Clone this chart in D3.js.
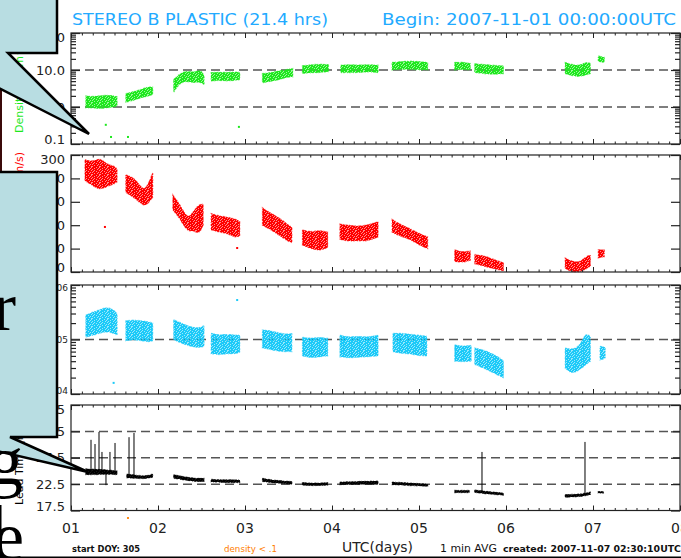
<!DOCTYPE html>
<html>
<head>
<meta charset="utf-8">
<script src="https://cdn.jsdelivr.net/npm/d3@7"></script>
<style>
  body { margin: 0; background: #fff; }
  svg { display: block; }
</style>
</head>
<body>
<div id="chart"></div>
<script>
// ---- data: [day, low, high] envelopes per data stretch ----
const densitySegs = [
  [[1.17,0.95,2.0],[1.25,0.95,1.9],[1.33,0.9,2.0],[1.41,0.95,2.1],[1.49,1.0,2.0],[1.53,1.05,1.9]],
  [[1.63,1.35,2.3],[1.72,1.5,2.6],[1.81,1.8,3.0],[1.90,2.0,3.6],[1.94,2.2,3.4]],
  [[2.18,2.5,5.5],[2.25,4.5,8.0],[2.33,5.0,9.5],[2.41,4.5,8.5],[2.49,4.8,10.5],[2.53,4.0,7.0]],
  [[2.61,5.0,8.5],[2.70,5.3,8.8],[2.80,5.0,8.5],[2.90,5.3,9.0],[2.94,5.5,8.5]],
  [[3.20,4.5,8.0],[3.30,5.0,8.5],[3.40,5.5,9.5],[3.50,6.5,10.5],[3.55,6.5,11]],
  [[3.66,8.0,13],[3.76,8.5,14],[3.86,8.5,14.5],[3.96,9,14]],
  [[4.10,8.5,13.5],[4.20,8.5,14],[4.30,8.5,13.5],[4.40,9,14],[4.53,8.5,13.5]],
  [[4.69,10,16],[4.80,10.5,17],[4.90,10.5,17.5],[5.00,10,17],[5.10,10,16]],
  [[5.41,10,16],[5.50,10.5,16.5],[5.59,10,15]],
  [[5.64,8.5,15],[5.75,8,14],[5.85,7.5,13.5],[5.97,8,13]],
  [[6.68,8,16],[6.76,7,14],[6.85,6.5,13],[6.93,7.5,17],[6.97,8,15]],
  [[7.06,17,24],[7.13,16,22]]
];
const densityDots = [[1.40,0.33],[1.46,0.155],[1.655,0.155],[2.93,0.29]];

const speedSegs = [
  [[1.16,278,296],[1.25,274,294],[1.33,270,298],[1.41,273,292],[1.49,275,291],[1.53,277,288]],
  [[1.63,268,283],[1.72,264,281],[1.81,258,272],[1.86,256,270],[1.94,264,285]],
  [[2.17,253,266],[2.25,246,258],[2.34,234,245],[2.40,236,251],[2.47,232,258],[2.52,240,258]],
  [[2.61,236,250],[2.70,234,248],[2.80,233,247],[2.90,229,245],[2.94,231,243]],
  [[3.20,240,255],[3.30,236,250],[3.40,231,246],[3.50,226,240],[3.54,225,238]],
  [[3.66,223,236],[3.76,220,234],[3.86,218,236],[3.95,221,234]],
  [[4.09,228,241],[4.20,226,240],[4.30,227,239],[4.40,226,240],[4.53,230,243]],
  [[4.69,234,245],[4.80,230,240],[4.90,228,237],[5.00,223,233],[5.10,220,230]],
  [[5.41,209,219],[5.50,208,217],[5.59,210,218]],
  [[5.64,207,215],[5.75,205,214],[5.85,203,211],[5.97,201,208]],
  [[6.68,203,212],[6.76,200,209],[6.85,200,208],[6.93,203,214],[6.97,205,214]],
  [[7.06,212,219],[7.13,213,219]]
];
const speedDots = [[1.39,238.5],[2.91,220.5]];

const tempSegs = [
  [[1.17,1.1e5,2.8e5],[1.25,1.2e5,3.2e5],[1.33,1.3e5,3.5e5],[1.41,1.4e5,4.0e5],[1.49,1.3e5,3.5e5],[1.53,1.2e5,3.0e5]],
  [[1.63,0.95e5,2.2e5],[1.72,1.0e5,2.3e5],[1.81,0.95e5,2.2e5],[1.90,0.9e5,2.1e5],[1.94,0.95e5,2.0e5]],
  [[2.18,1.0e5,2.3e5],[2.27,0.85e5,2.0e5],[2.37,0.75e5,1.7e5],[2.47,0.7e5,1.6e5],[2.53,0.75e5,1.8e5]],
  [[2.61,5.5e4,1.3e5],[2.70,5.2e4,1.2e5],[2.80,5.5e4,1.25e5],[2.90,5.5e4,1.2e5],[2.94,5.8e4,1.2e5]],
  [[3.20,7e4,1.5e5],[3.30,6.5e4,1.45e5],[3.40,6e4,1.3e5],[3.50,6e4,1.25e5],[3.54,6e4,1.3e5]],
  [[3.66,5e4,1.1e5],[3.76,4.6e4,1.05e5],[3.86,4.8e4,1.1e5],[3.95,5e4,1.05e5]],
  [[4.09,4.8e4,1.2e5],[4.20,4.6e4,1.1e5],[4.30,4.7e4,1.15e5],[4.40,4.8e4,1.1e5],[4.53,5e4,1.2e5]],
  [[4.70,6e4,1.3e5],[4.80,5.5e4,1.3e5],[4.90,5.5e4,1.25e5],[5.00,5e4,1.2e5],[5.09,5e4,1.15e5]],
  [[5.41,4e4,8e4],[5.50,3.9e4,7.5e4],[5.60,4e4,7.8e4]],
  [[5.64,3.5e4,7e4],[5.74,3.0e4,6.5e4],[5.84,2.5e4,5.5e4],[5.94,2.1e4,4.5e4],[5.97,2.0e4,4.0e4]],
  [[6.68,3.0e4,7.0e4],[6.76,2.3e4,6.5e4],[6.85,2.8e4,7.5e4],[6.92,3.5e4,1.4e5],[6.97,4e4,1.1e5]],
  [[7.08,4.2e4,7.5e4],[7.14,4.5e4,7.2e4]]
];
const tempDots = [[1.49,1.6e4],[2.91,5.3e5]];

const leadSegs = [
  [[1.17,24.3,25.4],[1.30,24.3,25.3],[1.42,24.4,25.2],[1.53,24.3,25.0]],
  [[1.64,23.7,24.4],[1.75,23.6,24.2],[1.85,23.5,24.0],[1.94,23.8,24.4]],
  [[2.18,23.6,24.3],[2.30,23.3,23.9],[2.42,23.0,23.6],[2.53,23.0,23.6]],
  [[2.61,22.9,23.4],[2.75,22.8,23.3],[2.94,22.8,23.3]],
  [[3.20,23.0,23.6],[3.35,22.7,23.2],[3.54,22.5,23.0]],
  [[3.66,22.3,22.8],[3.80,22.2,22.7],[3.95,22.3,22.8]],
  [[4.09,22.4,22.9],[4.30,22.5,23.0],[4.53,22.5,23.1]],
  [[4.69,22.4,22.9],[4.90,22.2,22.7],[5.10,22.1,22.5]],
  [[5.41,20.9,21.3],[5.58,20.9,21.3]],
  [[5.64,20.9,21.4],[5.80,20.6,21.1],[5.97,20.4,20.8]],
  [[6.68,20.0,20.5],[6.85,20.1,20.6],[6.97,20.5,21.0]],
  [[7.06,20.8,21.1],[7.12,20.8,21.1]]
];
const leadSpikes = [
  [1.23,24.8,30.9],[1.276,24.8,30.1],[1.322,24.8,32.4],[1.356,24.8,28.6],[1.402,24.8,22.3],
  [1.448,24.8,28.6],[1.506,24.7,30.3],[1.667,24.0,31.4],[1.724,23.9,32.2],
  [5.724,21.0,28.6],[6.908,20.5,30.5]
];
const lowDensityFlags = [1.655];

// axis values and labels
const dayTicks = [1, 2, 3, 4, 5, 6, 7, 8];
const dayLabels = ["01", "02", "03", "04", "05", "06", "07", "08"];
const densTicks = [0.1, 1, 10, 100];
const densLabels = ["0.1", "1.0", "10.0", "100.0"];
const densDashes = [1, 10];
const speedTicks = [200, 220, 240, 260, 280, 300];
const speedLabels = ["200", "220", "240", "260", "280", "300"];
const tempTicks = [1e4, 1e5, 1e6];
const tempLabels = ["1e+04", "1e+05", "1e+06"];
const tempDashes = [1e5];
const leadTicks = [17.5, 22.5, 27.5, 32.5, 37.5];
const leadLabels = ["17.5", "22.5", "27.5", "32.5", "37.5"];
const leadDashes = [22.5, 27.5, 32.5];

const width = 681;
const height = 558;
const SANS = "'DejaVu Sans', sans-serif";

const svg = d3.select("#chart")
  .append("svg")
  .attr("width", width)
  .attr("height", height)
  .style("background", "#fff");

const x = d3.scaleLinear().domain([1, 8]).range([71, 680]);

const panels = [
  { id: "dens", top: 33, bottom: 144, log: true, domain: [0.1, 100], color: "#1ee81e",
    segs: densitySegs, dots: densityDots, ticks: densTicks, labels: densLabels,
    dashes: densDashes, font: 13, title: "Density (1/cm^3)", titleY: 133, anchor: "start" },
  { id: "speed", top: 155, bottom: 272, log: false, domain: [200, 300], color: "#ff0000",
    segs: speedSegs, dots: speedDots, ticks: speedTicks, labels: speedLabels,
    dashes: [], font: 13, title: "Speed (km/s)", titleY: 152, anchor: "end" },
  { id: "temp", top: 285, bottom: 394, log: true, domain: [1e4, 1e6], color: "#1ccaf8",
    segs: tempSegs, dots: tempDots, ticks: tempTicks, labels: tempLabels,
    dashes: tempDashes, font: 9, title: "Temperature (K)", titleY: 340, anchor: "middle" },
  { id: "lead", top: 405, bottom: 510.5, log: false, domain: [17.5, 37.5], color: "#000",
    segs: leadSegs, dots: [], ticks: leadTicks, labels: leadLabels,
    dashes: leadDashes, font: 13, title: "Lead Time (hrs)", titleY: 505, anchor: "start" }
];

// speckle texture so the envelopes read like scattered 1-min points
const speckle = [
  "XX.XXX.X", "X.XX.XXX", "XXX.XX.X", ".XXXX.XX",
  "XX.X.XXX", "X.XXXX.X", "XXX..XXX", ".XX.XXXX"
];
const defs = svg.append("defs");
panels.forEach(p => {
  const pat = defs.append("pattern")
    .attr("id", "sp-" + p.id)
    .attr("width", 8).attr("height", 8)
    .attr("patternUnits", "userSpaceOnUse");
  speckle.forEach((row, r) => row.split("").forEach((c, k) => {
    if (c === "X") pat.append("rect").attr("x", k).attr("y", r).attr("width", 1).attr("height", 1).attr("fill", p.color);
  }));
});

const minorX = d3.range(1, 8.001, 0.125);

panels.forEach(p => {
  const y = (p.log ? d3.scaleLog() : d3.scaleLinear()).domain(p.domain).range([p.bottom, p.top]);
  const g = svg.append("g");

  // dashed reference lines
  g.selectAll(".dash").data(p.dashes).enter().append("line")
    .attr("x1", 71).attr("x2", 680)
    .attr("y1", d => y(d)).attr("y2", d => y(d))
    .attr("stroke", "#555").attr("stroke-width", 1.5)
    .attr("stroke-dasharray", "9,5");

  // data envelopes
  const area = d3.area()
    .x(d => x(d[0]))
    .y0(d => y(d[1]))
    .y1(d => y(d[2]))
    .curve(d3.curveBasis);
  g.selectAll(".base").data(p.segs).enter().append("path")
    .attr("d", area)
    .attr("fill", p.color)
    .attr("fill-opacity", p.id === "lead" ? 0.9 : 0.45);
  g.selectAll(".seg").data(p.segs).enter().append("path")
    .attr("d", area)
    .attr("fill", `url(#sp-${p.id})`)
    .attr("stroke", p.color)
    .attr("stroke-opacity", 0.5)
    .attr("stroke-width", 1.2)
    .attr("stroke-dasharray", "2,1,1,2");

  g.selectAll(".dot").data(p.dots).enter().append("rect")
    .attr("x", d => x(d[0]) - 1).attr("y", d => y(d[1]) - 1)
    .attr("width", 2).attr("height", 2)
    .attr("fill", p.color);

  if (p.id === "lead") {
    g.selectAll(".spike").data(leadSpikes).enter().append("line")
      .attr("x1", d => x(d[0])).attr("x2", d => x(d[0]))
      .attr("y1", d => y(d[1])).attr("y2", d => y(d[2]))
      .attr("stroke", "#000").attr("stroke-width", 1);
  }

  // frame
  g.append("rect")
    .attr("x", 71).attr("y", p.top)
    .attr("width", 609).attr("height", p.bottom - p.top)
    .attr("fill", "none").attr("stroke", "#222").attr("stroke-width", 1.2);

  // x ticks, top and bottom, pointing inward
  [
    { axis: d3.axisBottom, pos: p.top },
    { axis: d3.axisTop, pos: p.bottom }
  ].forEach(t => {
    g.append("g").attr("transform", `translate(0,${t.pos})`)
      .call(t.axis(x).tickValues(minorX).tickSize(2.5).tickFormat(""))
      .call(s => s.select(".domain").remove())
      .selectAll("line").attr("stroke", "#222");
    g.append("g").attr("transform", `translate(0,${t.pos})`)
      .call(t.axis(x).tickValues(dayTicks).tickSize(5).tickFormat(""))
      .call(s => s.select(".domain").remove())
      .selectAll("line").attr("stroke", "#222");
  });

  // y ticks, left and right
  const minorY = p.log ? y.ticks().filter(v => !p.ticks.includes(v)) : [];
  [
    { axis: d3.axisRight, pos: 71 },
    { axis: d3.axisLeft, pos: 680 }
  ].forEach(t => {
    g.append("g").attr("transform", `translate(${t.pos},0)`)
      .call(t.axis(y).tickValues(p.ticks).tickSize(9).tickFormat(""))
      .call(s => s.select(".domain").remove())
      .selectAll("line").attr("stroke", "#222").attr("stroke-width", 1.2);
    if (minorY.length) {
      g.append("g").attr("transform", `translate(${t.pos},0)`)
        .call(t.axis(y).tickValues(minorY).tickSize(5).tickFormat(""))
        .call(s => s.select(".domain").remove())
        .selectAll("line").attr("stroke", "#222").attr("stroke-width", 1.2);
    }
  });

  // y labels, kept inside the panel's height
  const half = p.font * 0.36;
  g.selectAll(".ylab").data(p.ticks).enter().append("text")
    .attr("x", p.font < 10 ? 68 : 65)
    .attr("y", d => Math.min(p.bottom - half, Math.max(p.top + half, y(d))))
    .attr("dy", "0.36em")
    .attr("text-anchor", "end")
    .style("font-family", SANS)
    .attr("font-size", p.font)
    .attr("fill", "#222")
    .text((d, i) => p.labels[i]);

  // rotated axis title
  svg.append("text")
    .attr("transform", `translate(23,${p.titleY}) rotate(-90)`)
    .attr("text-anchor", p.anchor)
    .style("font-family", SANS)
    .attr("font-size", 11)
    .attr("fill", p.color)
    .text(p.title);
});

// low density flags under the last panel
svg.selectAll(".flag").data(lowDensityFlags).enter().append("rect")
  .attr("x", d => x(d) - 1).attr("y", 517)
  .attr("width", 2).attr("height", 2)
  .attr("fill", "#ff8c1a");

// day labels
svg.selectAll(".daylab").data(dayTicks).enter().append("text")
  .attr("x", d => x(d))
  .attr("y", 533)
  .attr("text-anchor", "middle")
  .style("font-family", SANS)
  .attr("font-size", 14)
  .attr("fill", "#222")
  .text((d, i) => dayLabels[i]);

// title line
svg.append("text").attr("x", 72).attr("y", 25)
  .style("font-family", SANS)
  .attr("font-size", 15).attr("fill", "#22aaff")
  .attr("textLength", 256).attr("lengthAdjust", "spacingAndGlyphs")
  .text("STEREO B PLASTIC (21.4 hrs)");
svg.append("text").attr("x", 382).attr("y", 25)
  .style("font-family", SANS)
  .attr("font-size", 15).attr("fill", "#22aaff")
  .attr("textLength", 294).attr("lengthAdjust", "spacingAndGlyphs")
  .text("Begin: 2007-11-01 00:00:00UTC");

// footer
const footer = [
  { x: 72, text: "start DOY: 305", size: 9, len: 68, color: "#111", weight: "bold" },
  { x: 224, text: "density < .1", size: 9, len: 53, color: "#ff8000", weight: "normal" },
  { x: 342, text: "UTC(days)", size: 14, len: 71, color: "#222", weight: "normal" },
  { x: 440, text: "1 min AVG", size: 10, len: 57, color: "#111", weight: "normal" },
  { x: 503, text: "created: 2007-11-07 02:30:10UTC", size: 9, len: 178, color: "#111", weight: "bold" }
];
svg.selectAll(".foot").data(footer).enter().append("text")
  .attr("x", d => d.x).attr("y", 552)
  .style("font-family", SANS)
  .attr("font-size", d => d.size)
  .attr("font-weight", d => d.weight)
  .attr("fill", d => d.color)
  .attr("textLength", d => d.len).attr("lengthAdjust", "spacingAndGlyphs")
  .text(d => d.text);

// slide edges
svg.append("rect").attr("x", 0).attr("y", 88).attr("width", 2).attr("height", 84).attr("fill", "#3b0a0a");
svg.append("rect").attr("x", 0).attr("y", 505).attr("width", 1.5).attr("height", 53).attr("fill", "#000");
svg.append("rect").attr("x", 0).attr("y", 556.5).attr("width", 681).attr("height", 1.5).attr("fill", "#000");

// callouts on top
const callouts = [
  [[-3,-3],[57,-3],[57,53],[8,53],[89,134],[-3,87]],
  [[-3,172],[57,172],[57,437],[10,437],[88,472],[-3,451]]
];
svg.selectAll(".callout").data(callouts).enter().append("path")
  .attr("d", d => d3.line()(d) + "Z")
  .attr("fill", "#b8dde2")
  .attr("stroke", "#000")
  .attr("stroke-width", 2.5)
  .attr("stroke-linejoin", "miter");

// large slide letters
const letters = [
  { ch: "r", x: 16, y: 330 },
  { ch: "g", x: 23, y: 484 },
  { ch: "e", x: 24, y: 560 }
];
svg.selectAll(".letter").data(letters).enter().append("text")
  .attr("x", d => d.x).attr("y", d => d.y)
  .attr("text-anchor", "end")
  .style("font-family", "'Liberation Serif', 'DejaVu Serif', serif")
  .attr("font-size", 70)
  .attr("fill", "#000")
  .text(d => d.ch);
</script>
</body>
</html>
